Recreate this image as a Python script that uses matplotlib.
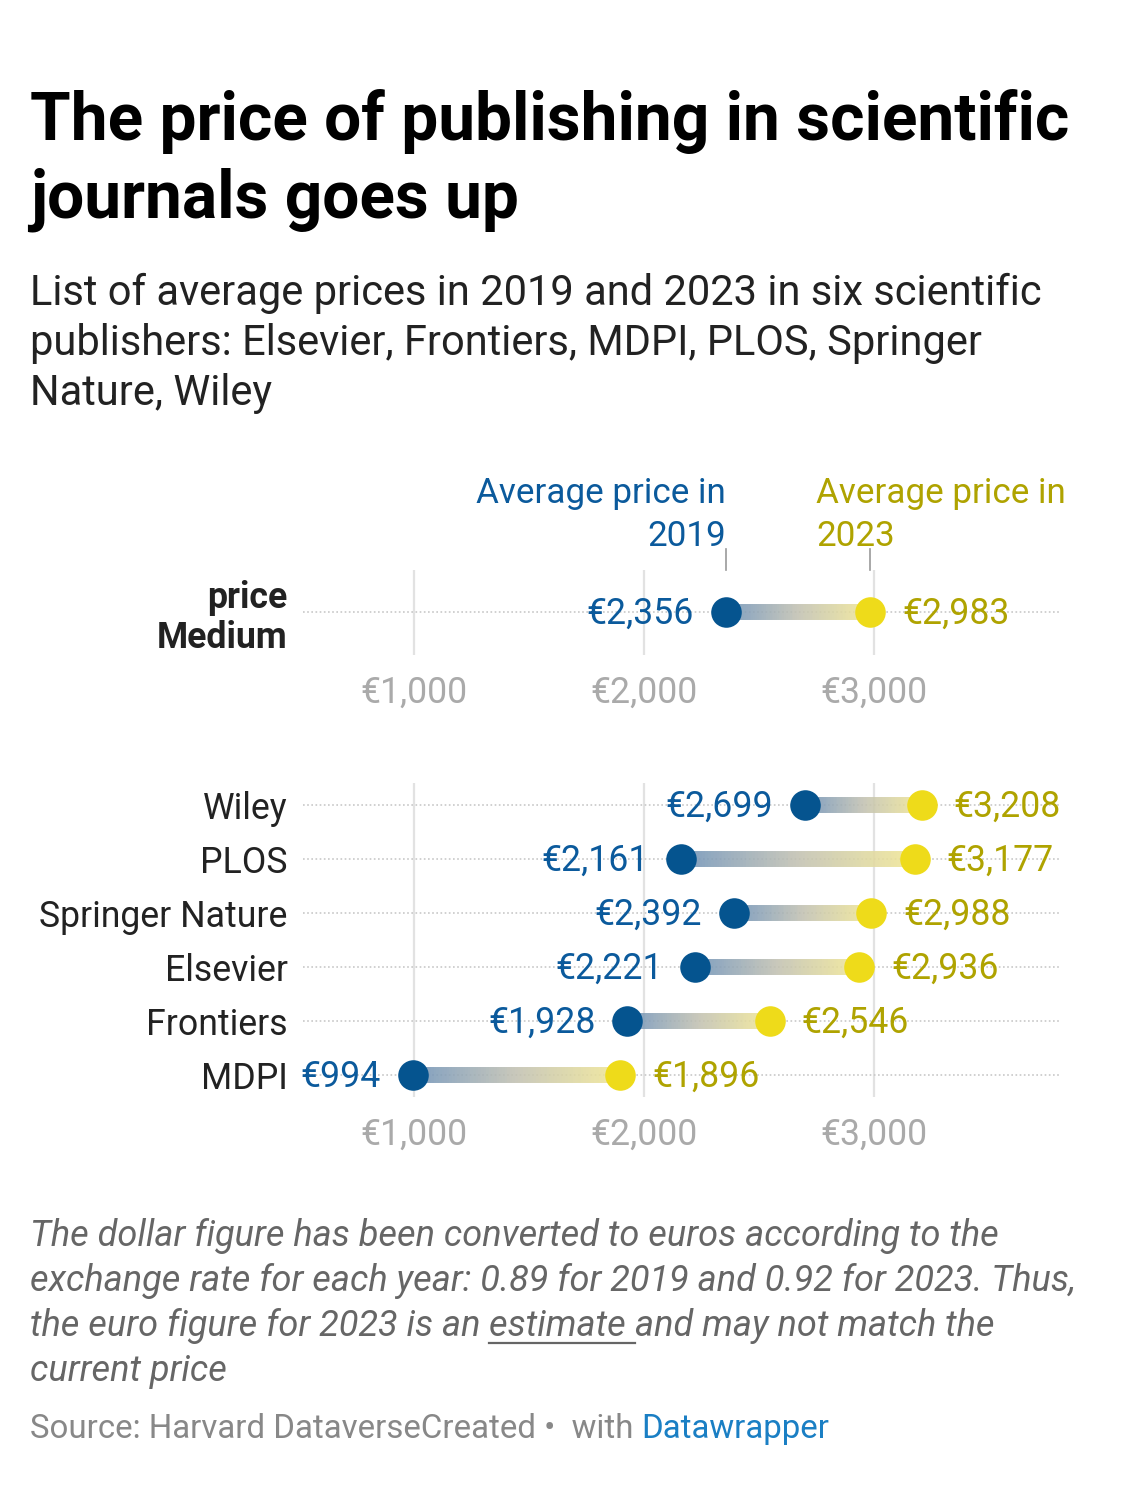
import matplotlib.pyplot as plt
import numpy as np
from matplotlib.collections import LineCollection
from matplotlib.colors import LinearSegmentedColormap

plt.rcParams['font.family'] = ['Roboto', 'DejaVu Sans']

publishers = ['MDPI', 'Frontiers', 'Elsevier', 'Springer Nature', 'PLOS', 'Wiley']
price_2019 = [994, 1928, 2221, 2392, 2161, 2699]
price_2023 = [1896, 2546, 2936, 2988, 3177, 3208]
medium_label = 'price\nMedium'
medium_2019 = [2356]
medium_2023 = [2983]
xticks = [1000, 2000, 3000]
xticklabels = ['€1,000', '€2,000', '€3,000']

BLUE = '#05548f'
BLUE_TXT = '#0b5a9c'
YELLOW = '#eedb1a'
OLIVE = '#afa300'
W, H = 1125, 1512
FS = 25.7  # chart label size

# bar gradient from 2019 to 2023 (washed colours)
grad = LinearSegmentedColormap.from_list('grad', ['#6f92b8', '#c2c1b2', '#f1e795'])

fig = plt.figure(figsize=(W / 100, H / 100), dpi=100)


def px_axes(x0, y0, x1, y1):
    # pixel box (top-left origin) -> axes
    return fig.add_axes([x0 / W, 1 - y1 / H, (x1 - x0) / W, (y1 - y0) / H])


def draw_panel(ax, ypos, v19, v23):
    ax.set_xlim(517.4, 3808.7)
    for s in ax.spines.values():
        s.set_visible(False)
    ax.set_xticks(xticks)
    ax.set_xticklabels(xticklabels)
    ax.tick_params(axis='x', length=0, pad=14, labelsize=FS, labelcolor='#aaaaaa')
    for t in xticks:
        ax.axvline(t, color='#e2e2e2', lw=1.6, zorder=0)
    for y, a, b in zip(ypos, v19, v23):
        ax.plot([517.4, 3808.7], [y, y], color='#c8c8c8', lw=1.2, ls=(0, (1, 1.5)), zorder=1)
        xs = np.linspace(a, b, 80)
        segs = [[(xs[i], y), (xs[i + 1], y)] for i in range(len(xs) - 1)]
        cols = grad(np.linspace(0, 1, len(segs)))
        cols[:, 3] = 0.88
        ax.add_collection(LineCollection(segs, colors=cols, linewidths=11.5,
                                         capstyle='butt', zorder=2))
        ax.plot(a, y, 'o', ms=22, color=BLUE, mec='none', zorder=3)
        ax.plot(b, y, 'o', ms=22, color=YELLOW, mec='none', zorder=3)
        ax.annotate(f'€{a:,}', (a, y), xytext=(-23, -1.5), textcoords='offset points',
                    ha='right', va='center', fontsize=FS, color=BLUE_TXT)
        ax.annotate(f'€{b:,}', (b, y), xytext=(23, -1.5), textcoords='offset points',
                    ha='left', va='center', fontsize=FS, color=OLIVE)


# top panel (median)
ax_top = px_axes(303, 570, 1060, 655)
ax_top.set_ylim(-0.796, 0.778)
draw_panel(ax_top, [0], medium_2019, medium_2023)
ax_top.set_yticks([0])
ax_top.set_yticklabels([medium_label], fontsize=FS, fontweight='bold', color='#222222',
                       linespacing=1.15)
ax_top.tick_params(axis='y', length=0, pad=11)

# header labels above the median row
for xv, ha, col, year in [(medium_2019[0], 'right', BLUE_TXT, '2019'),
                          (2748, 'left', OLIVE, '2023')]:
    for txt, dy in [('Average price in', 48.2), (year, 17.3)]:
        ax_top.annotate(txt, (xv, 1.0), xycoords=('data', 'axes fraction'),
                        xytext=(0, dy), textcoords='offset points',
                        ha=ha, va='baseline', fontsize=FS - 0.5, color=col)
for xv in [medium_2019[0], medium_2023[0]]:
    ax_top.plot([xv, xv], [1.0, 1.25], color='#999999', lw=1.2,
                transform=ax_top.get_xaxis_transform(), clip_on=False)

# main panel
ax = px_axes(303, 783, 1060, 1097)
ax.set_ylim(-0.407, 5.407)
ypos = np.arange(len(publishers))
draw_panel(ax, ypos, price_2019, price_2023)
ax.set_yticks(ypos)
ax.set_yticklabels(publishers, fontsize=FS, color='#222222')
ax.tick_params(axis='y', length=0, pad=11)

# title & subtitle
fig.text(30 / W, 1 - 140 / H, 'The price of publishing in scientific', fontsize=47.3,
         fontweight='bold', color='#000000', va='baseline')
fig.text(30 / W, 1 - 218 / H, 'journals goes up', fontsize=47.3,
         fontweight='bold', color='#000000', va='baseline')
sub = ['List of average prices in 2019 and 2023 in six scientific',
       'publishers: Elsevier, Frontiers, MDPI, PLOS, Springer',
       'Nature, Wiley']
for i, line in enumerate(sub):
    fig.text(30 / W, 1 - (305 + 50 * i) / H, line, fontsize=30, color='#222222',
             va='baseline')

# footnote
notes = ['The dollar figure has been converted to euros according to the',
         'exchange rate for each year: 0.89 for 2019 and 0.92 for 2023. Thus,',
         None,
         'current price']
r = fig.canvas.get_renderer()
for i, line in enumerate(notes):
    yb = 1 - (1246 + 45 * i) / H
    if line is not None:
        fig.text(30 / W, yb, line, fontsize=26, style='italic', color='#666666',
                 va='baseline')
    else:
        x = 30 / W
        for part, ul in [('the euro figure for 2023 is an ', False), ('estimate ', True),
                         ('and may not match the', False)]:
            t = fig.text(x, yb, part, fontsize=26, style='italic', color='#666666',
                         va='baseline')
            bb = t.get_window_extent(r).transformed(fig.transFigure.inverted())
            if ul:
                fig.add_artist(plt.Line2D([x, bb.x1], [yb - 7 / H, yb - 7 / H],
                                          color='#666666', lw=1.6))
            x = bb.x1

x = 30 / W
yb = 1 - 1438 / H
for part, col in [('Source: Harvard DataverseCreated •  with ', '#888888'),
                  ('Datawrapper', '#1a7fc4')]:
    t = fig.text(x, yb, part, fontsize=23.8, color=col, va='baseline')
    bb = t.get_window_extent(r).transformed(fig.transFigure.inverted())
    x = bb.x1

fig.savefig('out.png', dpi=100, facecolor='white')
